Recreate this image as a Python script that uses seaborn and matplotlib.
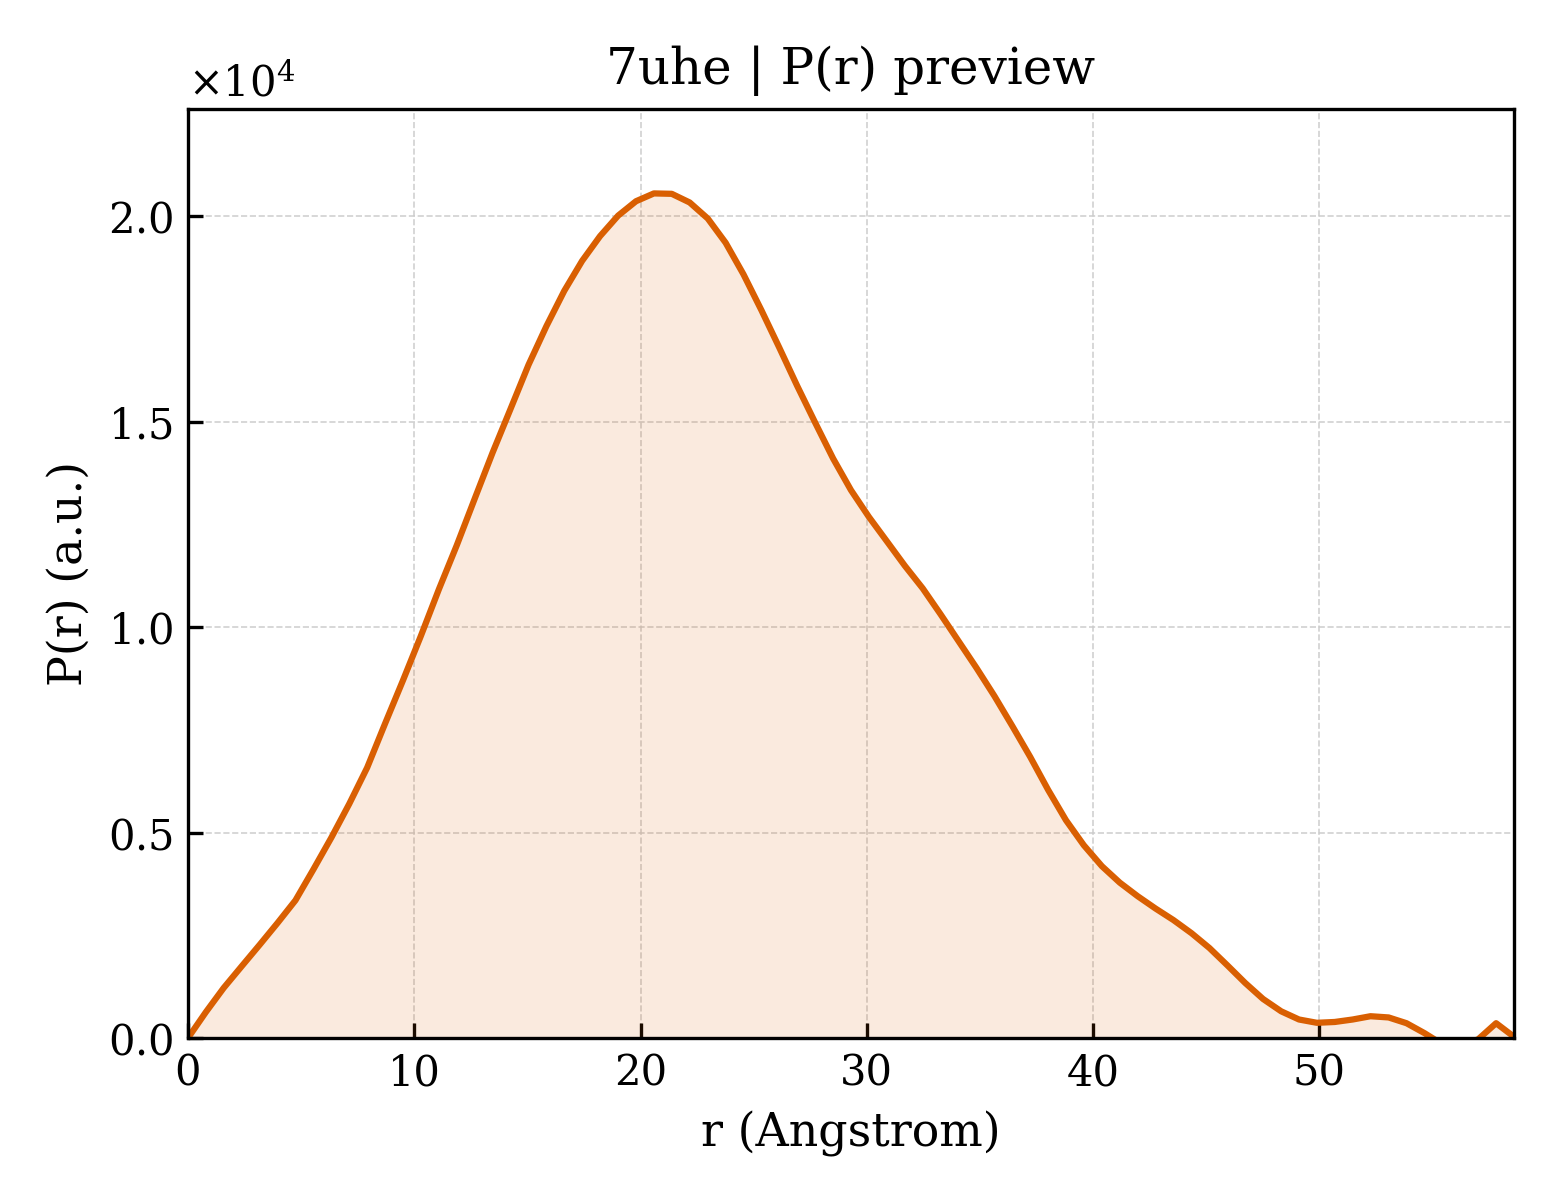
import matplotlib

matplotlib.use("Agg")
import matplotlib.pyplot as plt
import pandas as pd
import seaborn as sns

# r grid (Angstrom)
r_vals = [
    0.00, 0.79, 1.58, 2.38, 3.17, 3.96, 4.75, 5.54, 6.34, 7.13,
    7.92, 8.71, 9.50, 10.29, 11.09, 11.88, 12.67, 13.46, 14.25, 15.05,
    15.84, 16.63, 17.42, 18.21, 19.01, 19.80, 20.59, 21.38, 22.17, 22.97,
    23.76, 24.55, 25.34, 26.13, 26.92, 27.72, 28.51, 29.30, 30.09, 30.88,
    31.68, 32.47, 33.26, 34.05, 34.84, 35.64, 36.43, 37.22, 38.01, 38.80,
    39.59, 40.39, 41.18, 41.97, 42.76, 43.55, 44.35, 45.14, 45.93, 46.72,
    47.51, 48.31, 49.10, 49.89, 50.68, 51.47, 52.26, 53.06, 53.85, 54.64,
    55.43, 56.22, 57.02, 57.81, 58.60,
]

# P(r) values (a.u.)
p_vals = [
    0, 630, 1220, 1750, 2270, 2800, 3350, 4100, 4880, 5700,
    6580, 7650, 8700, 9780, 10920, 11990, 13120, 14240, 15300, 16380,
    17320, 18180, 18910, 19510, 20010, 20360, 20550, 20540, 20330, 19940,
    19350, 18580, 17710, 16800, 15870, 14970, 14100, 13330, 12680, 12090,
    11490, 10940, 10310, 9660, 9010, 8320, 7590, 6840, 6040, 5300,
    4690, 4180, 3780, 3450, 3150, 2870, 2550, 2190, 1770, 1340,
    950, 650, 450, 370, 390, 450, 530, 500, 360, 120,
    -150, -200, -30, 360, 30,
]

title = "7uhe | P(r) preview"
line_color = "#d95f02"

df = pd.DataFrame({"r": r_vals, "p": p_vals})

sns.set_style("ticks")
plt.rcParams["font.family"] = ["DejaVu Serif"]
plt.rcParams["mathtext.fontset"] = "dejavuserif"
plt.rcParams["text.color"] = "black"
plt.rcParams["axes.labelcolor"] = "black"

fig = plt.figure(figsize=(5.2, 4), dpi=300)
ax = fig.add_axes([0.1205, 0.135, 0.85, 0.7742])

ax.fill_between(df["r"], df["p"], 0, color=line_color, alpha=0.13, linewidth=0)
sns.lineplot(data=df, x="r", y="p", color=line_color, linewidth=1.5, ax=ax,
             sort=False, estimator=None)

ax.set_xlim(0, df["r"].max())
ax.set_ylim(0, 1.1 * df["p"].max())

ax.set_title(title, fontsize=12, color="black")
ax.set_xlabel("r (Angstrom)", fontsize=11, color="black")
ax.set_ylabel("P(r) (a.u.)", fontsize=11, color="black")

ax.ticklabel_format(axis="y", style="sci", scilimits=(0, 0), useMathText=True)
ax.yaxis.get_offset_text().set_fontsize(10)
ax.yaxis.get_offset_text().set_color("black")
ax.tick_params(direction="in", length=3.5, width=0.8, labelsize=10,
               top=False, right=False, colors="black")
for sp in ax.spines.values():
    sp.set_linewidth(0.8)
    sp.set_color("black")

ax.grid(True, linestyle="--", linewidth=0.4, color="#cccccc", alpha=0.9)

fig.savefig("out.png", dpi=300)
